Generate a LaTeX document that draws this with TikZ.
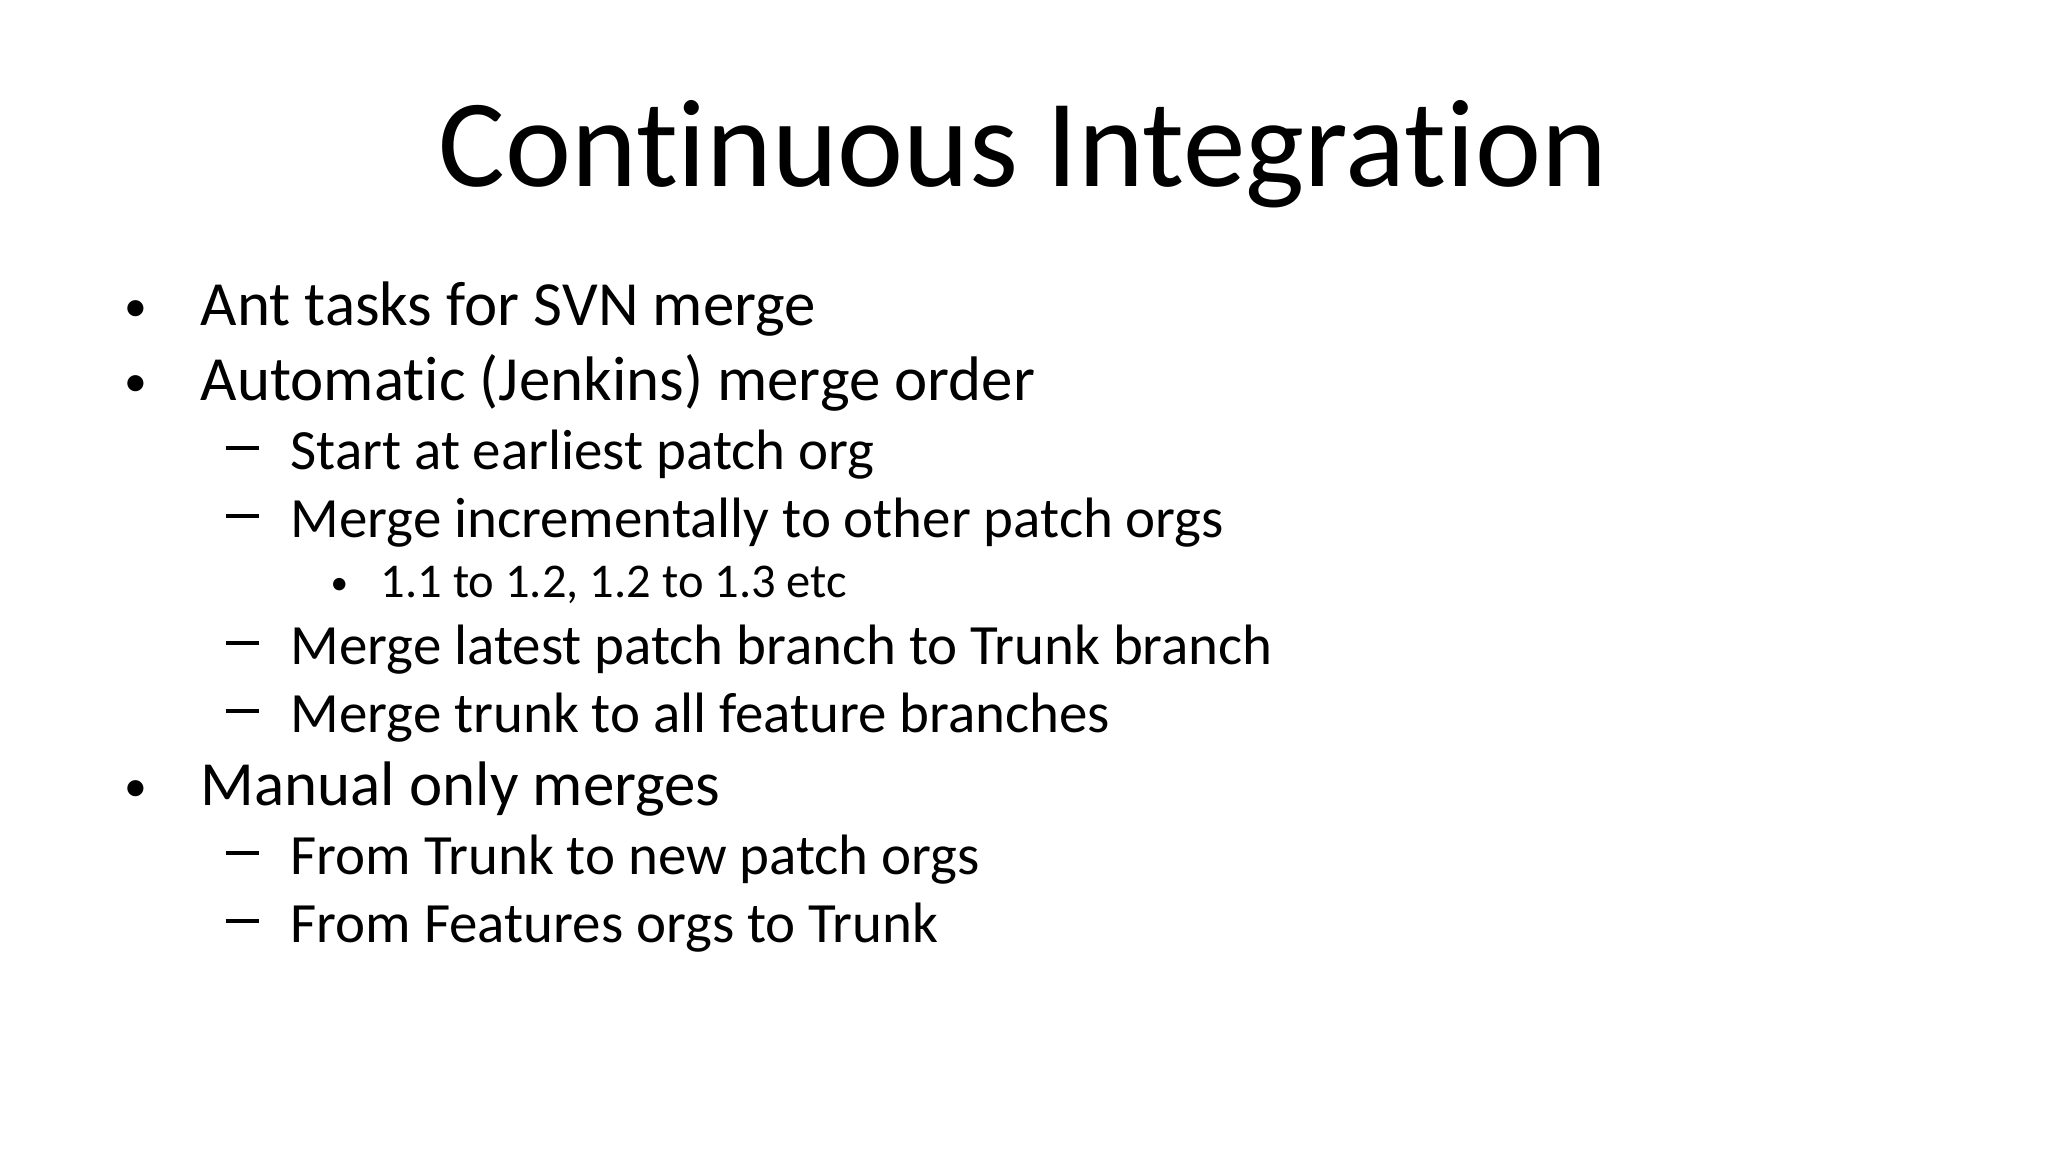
\documentclass[tikz,border=0pt]{standalone}
\usepackage{fontspec}
\setmainfont{Carlito}[Ligatures={NoCommon}]
\begin{document}
\begin{tikzpicture}[
  l1/.style={anchor=base west,inner sep=0pt,font=\fontsize{17.9pt}{22pt}\selectfont},
  l2/.style={anchor=base west,inner sep=0pt,font=\fontsize{16.2pt}{20pt}\selectfont},
  l3/.style={anchor=base west,inner sep=0pt,font=\fontsize{13.8pt}{17pt}\selectfont},
  bul/.style={anchor=base west,inner sep=0pt,font=\fontsize{13pt}{15pt}\selectfont},
  bul3/.style={anchor=base west,inner sep=0pt,font=\fontsize{10pt}{12pt}\selectfont},
  dsh/.style={anchor=base west,inner sep=0pt}]
\useasboundingbox[fill=white] (0,0) rectangle (20.48,11.52);
\node[anchor=base,inner sep=0pt,font=\fontsize{35.6pt}{42pt}\selectfont] (title) at (10.23,9.65) {Continuous Integration};
\newcommand{\dashmark}{\raisebox{0.2cm}{\rule{0.33cm}{1.1pt}}}
\node[bul] (b1) at (1.24,8.3) {•}; \node[l1] (t1) at (2.0,8.26) {Ant tasks for SVN merge};
\node[bul] (b2) at (1.24,7.55) {•}; \node[l1] (t2) at (2.0,7.51) {Automatic (Jenkins) merge order};
\node[dsh] (d1) at (2.25,6.82) {\dashmark}; \node[l2] (s1) at (2.9,6.82) {Start at earliest patch org};
\node[dsh] (d2) at (2.25,6.14) {\dashmark}; \node[l2] (s2) at (2.9,6.14) {Merge incrementally to other patch orgs};
\node[bul3] (e1) at (3.3,5.57) {•}; \node[l3] (u1) at (3.8,5.54) {1.1 to 1.2, 1.2 to 1.3 etc};
\node[dsh] (d3) at (2.25,4.87) {\dashmark}; \node[l2] (s3) at (2.9,4.87) {Merge latest patch branch to Trunk branch};
\node[dsh] (d4) at (2.25,4.19) {\dashmark}; \node[l2] (s4) at (2.9,4.19) {Merge trunk to all feature branches};
\node[bul] (b3) at (1.24,3.5) {•}; \node[l1] (t3) at (2.0,3.46) {Manual only merges};
\node[dsh] (d5) at (2.25,2.77) {\dashmark}; \node[l2] (s5) at (2.9,2.77) {From Trunk to new patch orgs};
\node[dsh] (d6) at (2.25,2.09) {\dashmark}; \node[l2] (s6) at (2.9,2.09) {From Features orgs to Trunk};
\end{tikzpicture}
\end{document}
